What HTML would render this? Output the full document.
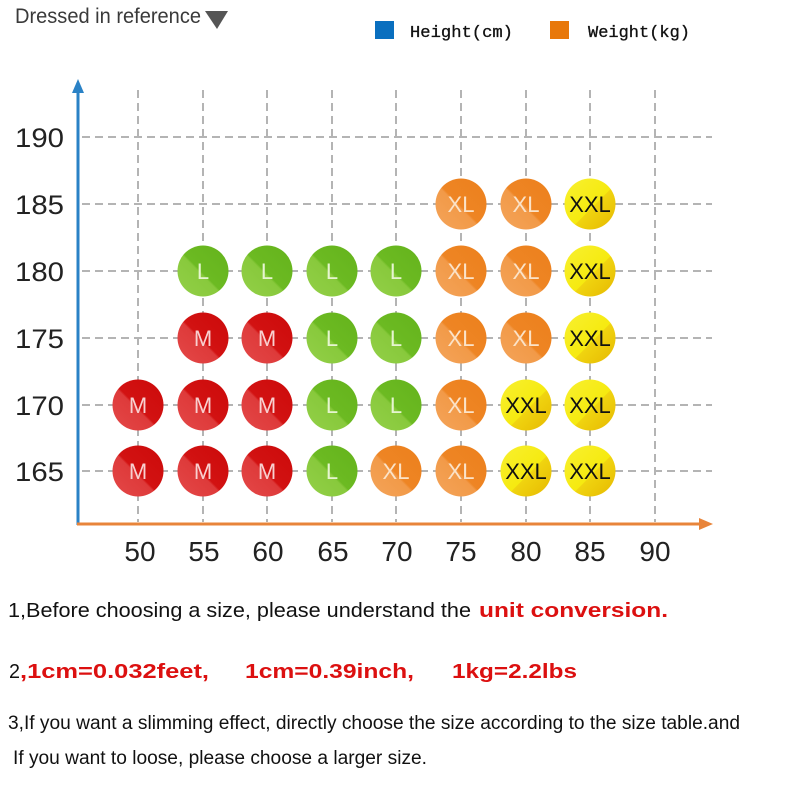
<!DOCTYPE html>
<html>
<head>
<meta charset="utf-8">
<style>
  html, body { margin:0; padding:0; background:#fff; }
  svg { display:block; }
</style>
</head>
<body>
<svg width="800" height="800" viewBox="0 0 800 800" xmlns="http://www.w3.org/2000/svg">
  <defs>
    <linearGradient id="gR" x1="0" y1="1" x2="1" y2="0">
      <stop offset="0" stop-color="#e44848"/>
      <stop offset="0.45" stop-color="#de3a3a"/>
      <stop offset="0.48" stop-color="#d21212"/>
      <stop offset="1" stop-color="#cc0a0a"/>
    </linearGradient>
    <linearGradient id="gG" x1="0" y1="1" x2="1" y2="0">
      <stop offset="0" stop-color="#93d048"/>
      <stop offset="0.45" stop-color="#88c93c"/>
      <stop offset="0.48" stop-color="#6cba22"/>
      <stop offset="1" stop-color="#64b31c"/>
    </linearGradient>
    <linearGradient id="gO" x1="0" y1="1" x2="1" y2="0">
      <stop offset="0" stop-color="#f4a45a"/>
      <stop offset="0.45" stop-color="#f29a48"/>
      <stop offset="0.48" stop-color="#ee8524"/>
      <stop offset="1" stop-color="#ec801c"/>
    </linearGradient>
    <linearGradient id="gY" x1="0" y1="0" x2="1" y2="1">
      <stop offset="0" stop-color="#f8f030"/>
      <stop offset="0.55" stop-color="#f6ea10"/>
      <stop offset="0.56" stop-color="#f0d410"/>
      <stop offset="1" stop-color="#e6b800"/>
    </linearGradient>
  </defs>

  <!-- header -->
  <text x="15" y="23" font-family="Liberation Sans, sans-serif" font-size="21" fill="#3a3a3a" textLength="186" lengthAdjust="spacingAndGlyphs">Dressed in reference</text>
  <polygon points="205,11 228,11 217,29" fill="#555"/>

  <!-- legend -->
  <rect x="375" y="21" width="19" height="18" fill="#0a6fbf"/>
  <text x="410" y="37" font-family="Liberation Mono, monospace" font-size="17" fill="#111" stroke="#111" stroke-width="0.3" textLength="103" lengthAdjust="spacingAndGlyphs">Height(cm)</text>
  <rect x="550" y="21" width="19" height="18" fill="#e8780a"/>
  <text x="588" y="37" font-family="Liberation Mono, monospace" font-size="17" fill="#111" stroke="#111" stroke-width="0.3" textLength="102" lengthAdjust="spacingAndGlyphs">Weight(kg)</text>

  <!-- grid -->
  <g stroke="#b4b4b4" stroke-width="2" stroke-dasharray="8,5" fill="none">
    <line x1="82" y1="137" x2="712" y2="137"/>
    <line x1="82" y1="204" x2="712" y2="204"/>
    <line x1="82" y1="271" x2="712" y2="271"/>
    <line x1="82" y1="338" x2="712" y2="338"/>
    <line x1="82" y1="405" x2="712" y2="405"/>
    <line x1="82" y1="471" x2="712" y2="471"/>
    <line x1="138" y1="90" x2="138" y2="522"/>
    <line x1="203" y1="90" x2="203" y2="522"/>
    <line x1="267" y1="90" x2="267" y2="522"/>
    <line x1="332" y1="90" x2="332" y2="522"/>
    <line x1="396" y1="90" x2="396" y2="522"/>
    <line x1="461" y1="90" x2="461" y2="522"/>
    <line x1="526" y1="90" x2="526" y2="522"/>
    <line x1="590" y1="90" x2="590" y2="522"/>
    <line x1="655" y1="90" x2="655" y2="522"/>
  </g>

  <!-- axes -->
  <line x1="78" y1="88" x2="78" y2="525" stroke="#2a82c6" stroke-width="3"/>
  <polygon points="78,79 72,93 84,93" fill="#2a82c6"/>
  <line x1="77" y1="524" x2="702" y2="524" stroke="#e8843a" stroke-width="3"/>
  <polygon points="713,524 699,518 699,530" fill="#e8843a"/>

  <!-- y labels -->
  <g font-family="Liberation Sans, sans-serif" font-size="27" fill="#222">
    <text x="15" y="147" textLength="49" lengthAdjust="spacingAndGlyphs">190</text>
    <text x="15" y="214" textLength="49" lengthAdjust="spacingAndGlyphs">185</text>
    <text x="15" y="281" textLength="49" lengthAdjust="spacingAndGlyphs">180</text>
    <text x="15" y="348" textLength="49" lengthAdjust="spacingAndGlyphs">175</text>
    <text x="15" y="415" textLength="49" lengthAdjust="spacingAndGlyphs">170</text>
    <text x="15" y="481" textLength="49" lengthAdjust="spacingAndGlyphs">165</text>
  </g>
  <!-- x labels -->
  <g font-family="Liberation Sans, sans-serif" font-size="28" fill="#222" text-anchor="middle">
    <text x="140" y="561">50</text>
    <text x="204" y="561">55</text>
    <text x="268" y="561">60</text>
    <text x="333" y="561">65</text>
    <text x="397" y="561">70</text>
    <text x="461" y="561">75</text>
    <text x="526" y="561">80</text>
    <text x="590" y="561">85</text>
    <text x="655" y="561">90</text>
  </g>

  <!-- circles -->
  <g font-family="Liberation Sans, sans-serif" font-size="22" text-anchor="middle">
    <!-- row 185 -->
    <circle cx="461" cy="204" r="25.5" fill="url(#gO)"/><text x="461" y="212" fill="#fbe3c8">XL</text>
    <circle cx="526" cy="204" r="25.5" fill="url(#gO)"/><text x="526" y="212" fill="#fbe3c8">XL</text>
    <circle cx="590" cy="204" r="25.5" fill="url(#gY)"/><text x="590" y="212" fill="#111">XXL</text>
    <!-- row 180 -->
    <circle cx="203" cy="271" r="25.5" fill="url(#gG)"/><text x="203" y="279" fill="#e6f5d0">L</text>
    <circle cx="267" cy="271" r="25.5" fill="url(#gG)"/><text x="267" y="279" fill="#e6f5d0">L</text>
    <circle cx="332" cy="271" r="25.5" fill="url(#gG)"/><text x="332" y="279" fill="#e6f5d0">L</text>
    <circle cx="396" cy="271" r="25.5" fill="url(#gG)"/><text x="396" y="279" fill="#e6f5d0">L</text>
    <circle cx="461" cy="271" r="25.5" fill="url(#gO)"/><text x="461" y="279" fill="#fbe3c8">XL</text>
    <circle cx="526" cy="271" r="25.5" fill="url(#gO)"/><text x="526" y="279" fill="#fbe3c8">XL</text>
    <circle cx="590" cy="271" r="25.5" fill="url(#gY)"/><text x="590" y="279" fill="#111">XXL</text>
    <!-- row 175 -->
    <circle cx="203" cy="338" r="25.5" fill="url(#gR)"/><text x="203" y="346" fill="#f8d0d0">M</text>
    <circle cx="267" cy="338" r="25.5" fill="url(#gR)"/><text x="267" y="346" fill="#f8d0d0">M</text>
    <circle cx="332" cy="338" r="25.5" fill="url(#gG)"/><text x="332" y="346" fill="#e6f5d0">L</text>
    <circle cx="396" cy="338" r="25.5" fill="url(#gG)"/><text x="396" y="346" fill="#e6f5d0">L</text>
    <circle cx="461" cy="338" r="25.5" fill="url(#gO)"/><text x="461" y="346" fill="#fbe3c8">XL</text>
    <circle cx="526" cy="338" r="25.5" fill="url(#gO)"/><text x="526" y="346" fill="#fbe3c8">XL</text>
    <circle cx="590" cy="338" r="25.5" fill="url(#gY)"/><text x="590" y="346" fill="#111">XXL</text>
    <!-- row 170 -->
    <circle cx="138" cy="405" r="25.5" fill="url(#gR)"/><text x="138" y="413" fill="#f8d0d0">M</text>
    <circle cx="203" cy="405" r="25.5" fill="url(#gR)"/><text x="203" y="413" fill="#f8d0d0">M</text>
    <circle cx="267" cy="405" r="25.5" fill="url(#gR)"/><text x="267" y="413" fill="#f8d0d0">M</text>
    <circle cx="332" cy="405" r="25.5" fill="url(#gG)"/><text x="332" y="413" fill="#e6f5d0">L</text>
    <circle cx="396" cy="405" r="25.5" fill="url(#gG)"/><text x="396" y="413" fill="#e6f5d0">L</text>
    <circle cx="461" cy="405" r="25.5" fill="url(#gO)"/><text x="461" y="413" fill="#fbe3c8">XL</text>
    <circle cx="526" cy="405" r="25.5" fill="url(#gY)"/><text x="526" y="413" fill="#111">XXL</text>
    <circle cx="590" cy="405" r="25.5" fill="url(#gY)"/><text x="590" y="413" fill="#111">XXL</text>
    <!-- row 165 -->
    <circle cx="138" cy="471" r="25.5" fill="url(#gR)"/><text x="138" y="479" fill="#f8d0d0">M</text>
    <circle cx="203" cy="471" r="25.5" fill="url(#gR)"/><text x="203" y="479" fill="#f8d0d0">M</text>
    <circle cx="267" cy="471" r="25.5" fill="url(#gR)"/><text x="267" y="479" fill="#f8d0d0">M</text>
    <circle cx="332" cy="471" r="25.5" fill="url(#gG)"/><text x="332" y="479" fill="#e6f5d0">L</text>
    <circle cx="396" cy="471" r="25.5" fill="url(#gO)"/><text x="396" y="479" fill="#fbe3c8">XL</text>
    <circle cx="461" cy="471" r="25.5" fill="url(#gO)"/><text x="461" y="479" fill="#fbe3c8">XL</text>
    <circle cx="526" cy="471" r="25.5" fill="url(#gY)"/><text x="526" y="479" fill="#111">XXL</text>
    <circle cx="590" cy="471" r="25.5" fill="url(#gY)"/><text x="590" y="479" fill="#111">XXL</text>
  </g>

  <!-- bottom notes -->
  <g font-family="Liberation Sans, sans-serif" fill="#111">
    <text x="8" y="617" font-size="20" textLength="463" lengthAdjust="spacingAndGlyphs">1,Before choosing a size, please understand the</text>
    <text x="479" y="617" font-size="20" font-weight="bold" fill="#dc1010" textLength="189" lengthAdjust="spacingAndGlyphs">unit conversion.</text>

    <text x="9" y="678" font-size="20" textLength="11" lengthAdjust="spacingAndGlyphs">2</text>
    <text x="20" y="678" font-size="20" font-weight="bold" fill="#dc1010" textLength="189" lengthAdjust="spacingAndGlyphs">,1cm=0.032feet,</text>
    <text x="245" y="678" font-size="20" font-weight="bold" fill="#dc1010" textLength="169" lengthAdjust="spacingAndGlyphs">1cm=0.39inch,</text>
    <text x="452" y="678" font-size="20" font-weight="bold" fill="#dc1010" textLength="125" lengthAdjust="spacingAndGlyphs">1kg=2.2lbs</text>

    <text x="8" y="729" font-size="19" textLength="732" lengthAdjust="spacingAndGlyphs">3,If you want a slimming effect, directly choose the size according to the size table.and</text>
    <text x="13" y="764" font-size="19" textLength="414" lengthAdjust="spacingAndGlyphs">If you want to loose, please choose a larger size.</text>
  </g>
</svg>
</body>
</html>
